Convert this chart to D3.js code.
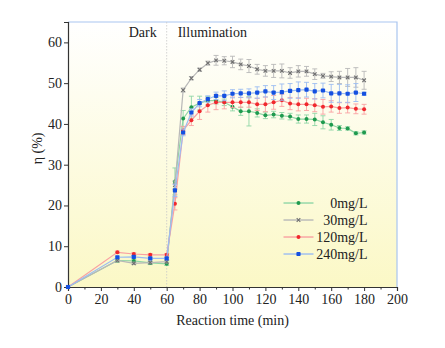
<!DOCTYPE html>
<html>
<head>
<meta charset="utf-8">
<script src="https://cdn.jsdelivr.net/npm/d3@7"></script>
<style>
  body { margin: 0; background: #fff; }
  text { font-family: "Liberation Serif", "Times New Roman", serif; fill: #222; }
</style>
</head>
<body>
<div id="chart"></div>
<script>
// sampling times (min)
const times = [0, 30, 40, 50, 60, 65, 70, 75, 80, 85, 90, 95, 100, 105, 110, 115, 120,
  125, 130, 135, 140, 145, 150, 155, 160, 165, 170, 175, 180];

const green0 = [0, 6.5, 6.4, 5.9, 5.7, 25.9, 41.3, 44.1, 45.1, 45.7, 45.7, 45.3, 44.2, 43.1, 43.1,
  42.7, 42.1, 42.3, 42.0, 41.8, 41.2, 41.2, 41.1, 40.4, 39.8, 39.0, 38.9, 37.7, 37.9];
const green0Err = [0, 0.4, 0.4, 0.4, 0.4, 3.3, 2.0, 2.7, 1.7, 1.0, 0.8, 0.8, 1.0, 1.0, 3.6,
  1.0, 0.8, 0.8, 0.8, 0.8, 1.0, 1.0, 1.5, 1.6, 1.3, 0.6, 0.4, 0.4, 0.4];

const gray30 = [0, 6.5, 5.8, 6.0, 6.2, 25.0, 48.3, 51.2, 53.3, 54.9, 55.6, 55.5, 55.2, 54.6, 54.2,
  53.4, 53.0, 53.0, 53.0, 52.5, 52.9, 52.9, 52.2, 51.8, 51.6, 51.4, 51.4, 51.4, 50.7];
const gray30Err = [0, 0.3, 0.3, 0.3, 0.3, 1.0, 0.5, 0.4, 0.4, 0.5, 1.2, 1.0, 1.4, 1.3, 1.6,
  1.2, 1.3, 1.6, 1.7, 1.3, 1.4, 1.2, 1.3, 0.6, 1.2, 1.5, 2.2, 2.4, 2.2];

const red120 = [0, 8.5, 8.1, 7.9, 7.9, 20.4, 38.4, 40.9, 43.1, 44.6, 45.3, 45.3, 45.3, 45.3, 45.3,
  44.8, 44.8, 45.3, 45.8, 45.0, 44.8, 44.8, 44.6, 44.2, 44.3, 43.9, 44.0, 43.7, 43.6];
const red120Err = [0, 0.3, 0.3, 0.3, 0.3, 1.5, 1.0, 1.3, 2.0, 1.7, 1.8, 1.6, 1.3, 1.2, 1.2,
  1.5, 1.8, 1.7, 1.5, 1.5, 1.6, 1.5, 1.6, 1.8, 1.4, 1.3, 1.3, 1.2, 1.2];

const blue240 = [0, 7.3, 7.4, 7.0, 7.0, 23.7, 37.9, 42.8, 45.1, 46.1, 46.9, 46.9, 47.4, 47.5, 47.5,
  47.7, 48.0, 47.7, 47.8, 48.1, 48.3, 48.4, 48.0, 48.2, 47.5, 47.5, 47.4, 47.7, 47.4];
const blue240Err = [0, 0.3, 0.3, 0.3, 0.3, 1.5, 0.8, 0.9, 0.9, 0.8, 0.9, 1.2, 1.0, 1.0, 1.1,
  1.4, 1.4, 1.7, 2.0, 1.8, 2.0, 1.8, 1.9, 1.8, 2.2, 2.2, 2.2, 2.2, 0.4];

const seriesNames = ['0mg/L', '30mg/L', '120mg/L', '240mg/L'];
const xTicks = [0, 20, 40, 60, 80, 100, 120, 140, 160, 180, 200];
const yTicks = [0, 10, 20, 30, 40, 50, 60];

const series = [
  { name: seriesNames[0], values: green0, err: green0Err, color: '#1f9a4e', light: '#8fd6a6', symbol: 'dot' },
  { name: seriesNames[1], values: gray30, err: gray30Err, color: '#6f6f6f', light: '#b8b8b8', symbol: 'cross' },
  { name: seriesNames[2], values: red120, err: red120Err, color: '#f0282d', light: '#f9a0a2', symbol: 'dot' },
  { name: seriesNames[3], values: blue240, err: blue240Err, color: '#1450e0', light: '#9bbcf2', symbol: 'square' }
];

const svgWidth = 445, svgHeight = 348;
const margin = { top: 22, right: 48, bottom: 61, left: 68 };
const width = svgWidth - margin.left - margin.right;
const height = svgHeight - margin.top - margin.bottom;

const svg = d3.select('#chart')
  .append('svg')
  .attr('width', svgWidth)
  .attr('height', svgHeight);

const grad = svg.append('defs').append('linearGradient')
  .attr('id', 'bg')
  .attr('x1', 0).attr('y1', 0).attr('x2', 0).attr('y2', 1);
grad.append('stop').attr('offset', '0%').attr('stop-color', '#ffffff');
grad.append('stop').attr('offset', '100%').attr('stop-color', '#fbf8c6');

const bounds = svg.append('g')
  .attr('transform', `translate(${margin.left}, ${margin.top})`);

const xScale = d3.scaleLinear().domain([0, 200]).range([0, width]);
const yScale = d3.scaleLinear().domain([0, 65]).range([height, 0]);

bounds.append('rect')
  .attr('width', width)
  .attr('height', height)
  .attr('fill', 'url(#bg)');

// frame top and right
bounds.append('path')
  .attr('d', `M0,0H${width}V${height}`)
  .attr('fill', 'none')
  .attr('stroke', '#a9c5ef')
  .attr('stroke-width', 1.2);

// dark / illumination divider
bounds.append('line')
  .attr('x1', xScale(60)).attr('x2', xScale(60))
  .attr('y1', 0).attr('y2', height)
  .attr('stroke', '#c8c8c8')
  .attr('stroke-width', 0.8)
  .attr('stroke-dasharray', '1.5,1.5');

bounds.append('text')
  .attr('x', xScale(60) - 10).attr('y', 15)
  .attr('text-anchor', 'end')
  .style('font-size', '14px')
  .text('Dark');
bounds.append('text')
  .attr('x', xScale(60) + 11).attr('y', 15)
  .style('font-size', '14px')
  .text('Illumination');

// axes
const xAxis = bounds.append('g')
  .attr('transform', `translate(0, ${height})`)
  .call(d3.axisBottom(xScale).tickValues(xTicks).tickSize(4).tickPadding(3));
bounds.append('g')
  .attr('transform', `translate(0, ${height})`)
  .call(d3.axisBottom(xScale).tickValues(d3.range(10, 200, 20)).tickSize(2.5).tickFormat(''))
  .select('.domain').remove();
const yAxis = bounds.append('g')
  .call(d3.axisLeft(yScale).tickValues(yTicks).tickSize(4).tickPadding(2));

[xAxis, yAxis].forEach(g => {
  g.selectAll('text').style('font-size', '14px').style('font-family', '"Liberation Serif", serif').attr('fill', '#222');
  g.select('.domain').attr('stroke', '#333').attr('stroke-width', 1.2);
  g.selectAll('.tick line').attr('stroke', '#333');
});
bounds.selectAll('.tick line').attr('stroke', '#333');

bounds.append('text')
  .attr('x', width / 2).attr('y', height + 38)
  .attr('text-anchor', 'middle')
  .style('font-size', '14px')
  .text('Reaction time (min)');

bounds.append('text')
  .attr('transform', `translate(${-26}, ${yScale(34)}) rotate(-90)`)
  .attr('text-anchor', 'middle')
  .style('font-size', '14px')
  .text('η (%)');

const lineGenerator = d3.line()
  .x((d, i) => xScale(times[i]))
  .y(d => yScale(d));

const drawMarker = (g, s, x, y) => {
  if (s.symbol === 'cross') {
    g.append('path')
      .attr('d', `M${x - 1.8},${y - 1.8}L${x + 1.8},${y + 1.8}M${x - 1.8},${y + 1.8}L${x + 1.8},${y - 1.8}`)
      .attr('stroke', s.color).attr('stroke-width', 1.1);
  } else if (s.symbol === 'square') {
    g.append('rect')
      .attr('x', x - 2.1).attr('y', y - 2.1)
      .attr('width', 4.2).attr('height', 4.2)
      .attr('rx', 0.8)
      .attr('fill', s.color);
  } else {
    g.append('circle')
      .attr('cx', x).attr('cy', y).attr('r', 2)
      .attr('fill', s.color);
  }
};

series.forEach(s => {
  const g = bounds.append('g');
  // error bars
  s.values.forEach((v, i) => {
    const e = s.err[i];
    if (!e) return;
    const x = xScale(times[i]);
    const y1 = yScale(v + e), y2 = yScale(v - e);
    g.append('path')
      .attr('d', `M${x},${y1}V${y2}M${x - 2.5},${y1}H${x + 2.5}M${x - 2.5},${y2}H${x + 2.5}`)
      .attr('fill', 'none')
      .attr('stroke', s.light)
      .attr('stroke-width', 0.9);
  });
  g.append('path')
    .attr('d', lineGenerator(s.values))
    .attr('fill', 'none')
    .attr('stroke', s.light)
    .attr('stroke-width', 1.2);
  s.values.forEach((v, i) => drawMarker(g, s, xScale(times[i]), yScale(v)));
});

// legend
const legend = bounds.append('g')
  .attr('transform', `translate(${xScale(131)}, ${yScale(20.6)})`);
series.forEach((s, i) => {
  const row = legend.append('g').attr('transform', `translate(0, ${i * 17})`);
  row.append('line')
    .attr('x1', 0).attr('x2', 30)
    .attr('stroke', s.light).attr('stroke-width', 1.4);
  drawMarker(row, s, 15, 0);
  row.append('text')
    .attr('x', 84).attr('y', 5)
    .attr('text-anchor', 'end')
    .style('font-size', '14px')
    .text(s.name);
});
</script>
</body>
</html>
